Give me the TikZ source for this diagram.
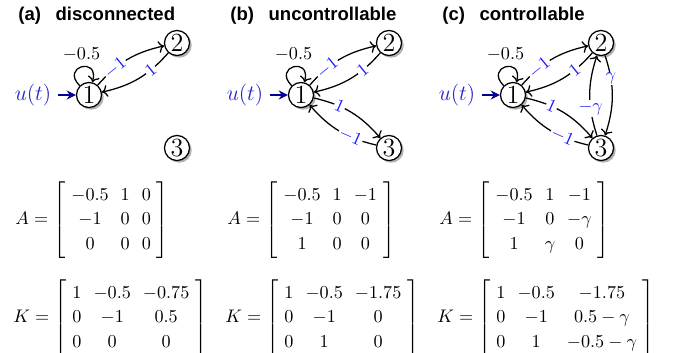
\documentclass[tikz,border=0pt]{standalone}
\usepackage{amsmath}
\usepackage{fontspec}
\newfontfamily\titlefont{Liberation Sans}
\usetikzlibrary{shadows,arrows.meta}
\definecolor{ublue}{RGB}{35,35,205}
\definecolor{navyarrow}{RGB}{0,0,150}
\definecolor{lblue}{RGB}{30,30,255}
\newcommand{\mymat}[2]{$\arraycolsep=3.3pt\renewcommand{\arraystretch}{1.12}#1 = \left[\begin{array}{ccc}#2\end{array}\right]$}
\tikzset{
  vnode/.style={circle, draw, line width=0.7pt, fill=white, minimum size=13.8pt, inner sep=0.5pt, font=\Large,
    drop shadow={shadow xshift=1.2pt, shadow yshift=-1.2pt, fill=black, opacity=0.3}},
  edgeline/.style={->, line width=0.7pt},
  elabel/.style={sloped, fill=white, inner sep=0.6pt, text=lblue},
  plabel/.style={fill=white, inner sep=0.6pt, text=lblue},
  paneltitle/.style={anchor=base west, inner sep=0, font=\titlefont\bfseries\fontsize{10.2}{12}\selectfont},
  uin/.style={text=ublue, font=\large},
  uarrow/.style={-{Stealth[length=5pt,width=5pt]}, line width=1.4pt, navyarrow},
  matnode/.style={anchor=west, inner sep=0},
  looplabel/.style={above=2pt, inner sep=1pt},
  selfloop/.style={->, line width=0.7pt, out=135, in=75, min distance=15pt},
}
\begin{document}
\begin{tikzpicture}[x=0.55pt, y=0.55pt]
\useasboundingbox (0,0) rectangle (680,-352);

% ---------- (a) ----------
\begin{scope}[shift={(0,0)}]
\node[paneltitle] (ta) at (18,-20) {(a)\hspace{8pt}disconnected};
\node[vnode] (a1) at (89,-95) {1};
\node[vnode] (a2) at (177,-43) {2};
\node[vnode] (a3) at (177,-148) {3};
\node[uin] (ua) at (33,-95) {$u(t)$};
\draw[uarrow] (ua) -- (a1);
\draw[selfloop] (a1) to node[looplabel] (la) {$-0.5$} (a1);
\draw[edgeline] (a1) to[bend left=18] node[elabel,pos=0.3] {$-1$} (a2);
\draw[edgeline] (a2) to[bend left=18] node[elabel,pos=0.3] {$1$} (a1);
\node[matnode] (Aa) at (15,-220) {\mymat{A}{-0.5 & 1 & 0\\ -1 & 0 & 0\\ 0 & 0 & 0}};
\node[matnode] (Ka) at (13,-318) {\mymat{K}{1 & -0.5 & -0.75\\ 0 & -1 & 0.5\\ 0 & 0 & 0}};
\end{scope}

% ---------- (b) ----------
\begin{scope}[shift={(212,0)}]
\node[paneltitle] (tb) at (18,-20) {(b)\hspace{8pt}uncontrollable};
\node[vnode] (b1) at (89,-95) {1};
\node[vnode] (b2) at (177,-43) {2};
\node[vnode] (b3) at (177,-148) {3};
\node[uin] (ub) at (33,-95) {$u(t)$};
\draw[uarrow] (ub) -- (b1);
\draw[selfloop] (b1) to node[looplabel] (lb) {$-0.5$} (b1);
\draw[edgeline] (b1) to[bend left=18] node[elabel,pos=0.3] {$-1$} (b2);
\draw[edgeline] (b2) to[bend left=18] node[elabel,pos=0.3] {$1$} (b1);
\draw[edgeline] (b1) to[bend left=18] node[elabel,pos=0.33] {$1$} (b3);
\draw[edgeline] (b3) to[bend left=18] node[elabel,pos=0.33] {$-1$} (b1);
\node[matnode] (Ab) at (15,-220) {\mymat{A}{-0.5 & 1 & -1\\ -1 & 0 & 0\\ 1 & 0 & 0}};
\node[matnode] (Kb) at (13,-318) {\mymat{K}{1 & -0.5 & -1.75\\ 0 & -1 & 0\\ 0 & 1 & 0}};
\end{scope}

% ---------- (c) ----------
\begin{scope}[shift={(424,0)}]
\node[paneltitle] (tc) at (18,-20) {(c)\hspace{8pt}controllable};
\node[vnode] (c1) at (89,-95) {1};
\node[vnode] (c2) at (177,-43) {2};
\node[vnode] (c3) at (177,-148) {3};
\node[uin] (uc) at (33,-95) {$u(t)$};
\draw[uarrow] (uc) -- (c1);
\draw[selfloop] (c1) to node[looplabel] (lc) {$-0.5$} (c1);
\draw[edgeline] (c1) to[bend left=18] node[elabel,pos=0.3] {$-1$} (c2);
\draw[edgeline] (c2) to[bend left=18] node[elabel,pos=0.3] {$1$} (c1);
\draw[edgeline] (c1) to[bend left=18] node[elabel,pos=0.33] {$1$} (c3);
\draw[edgeline] (c3) to[bend left=18] node[elabel,pos=0.33] {$-1$} (c1);
\draw[edgeline] (c2) to[bend left=18] node[plabel,pos=0.28] {$\gamma$} (c3);
\draw[edgeline] (c3) to[bend left=18] node[plabel,pos=0.33] {$-\gamma$} (c2);
\node[matnode] (Ac) at (15,-220) {\mymat{A}{-0.5 & 1 & -1\\ -1 & 0 & -\gamma\\ 1 & \gamma & 0}};
\node[matnode] (Kc) at (13,-318) {\mymat{K}{1 & -0.5 & -1.75\\ 0 & -1 & 0.5-\gamma\\ 0 & 1 & -0.5-\gamma}};
\end{scope}
\end{tikzpicture}
\end{document}
